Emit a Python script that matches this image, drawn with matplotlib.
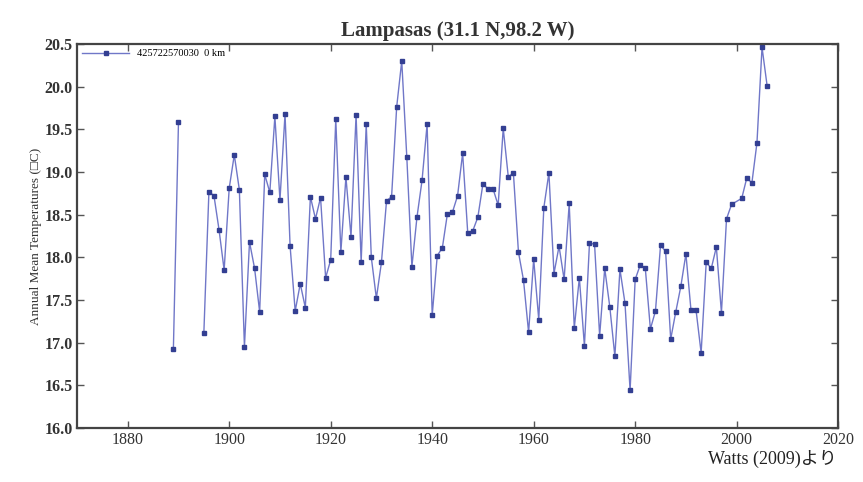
import matplotlib
matplotlib.use('Agg')
import matplotlib.pyplot as plt

# station record, Lampasas TX (GISS 425722570030)
years_early = [1889, 1890]
temps_early = [16.93, 19.58]

years_main = list(range(1895, 2000)) + [2001, 2002, 2003, 2004, 2005, 2006]
temps_main = [
    17.11, 18.77, 18.72, 18.32, 17.85,                                # 1895-1899
    18.81, 19.20, 18.79, 16.95, 18.18, 17.87, 17.36, 18.97, 18.76, 19.65,  # 1900s
    18.67, 19.68, 18.13, 17.37, 17.69, 17.41, 18.71, 18.45, 18.70, 17.76,  # 1910s
    17.97, 19.62, 18.06, 18.94, 18.24, 19.67, 17.94, 19.56, 18.00, 17.52,  # 1920s
    17.94, 18.66, 18.71, 19.76, 20.30, 19.17, 17.89, 18.47, 18.90, 19.56,  # 1930s
    17.32, 18.02, 18.11, 18.51, 18.53, 18.72, 19.22, 18.29, 18.31, 18.47,  # 1940s
    18.86, 18.80, 18.80, 18.61, 19.51, 18.94, 18.99, 18.06, 17.73, 17.12,  # 1950s
    17.98, 17.27, 18.58, 18.99, 17.81, 18.13, 17.74, 18.63, 17.17, 17.76,  # 1960s
    16.96, 18.17, 18.15, 17.08, 17.87, 17.42, 16.84, 17.86, 17.46, 16.44,  # 1970s
    17.74, 17.91, 17.87, 17.16, 17.37, 18.14, 18.07, 17.04, 17.36, 17.66,  # 1980s
    18.04, 17.38, 17.38, 16.88, 17.94, 17.87, 18.12, 17.35, 18.45, 18.62,  # 1990s
    18.69, 18.93, 18.87, 19.34, 20.46, 20.01,                          # 2001-2006
]

station_label = '425722570030  0 km'
serif = ['Liberation Serif', 'DejaVu Serif']

fig = plt.figure(figsize=(8.63, 4.82), dpi=100)
ax = fig.add_axes([0.0892, 0.112, 0.882, 0.797])

line_kw = dict(color='#7077c8', linewidth=1.0, marker='s', markersize=3.5,
               markerfacecolor='#333f92', markeredgecolor='#333f92')
ax.plot(years_early, temps_early, label=station_label, **line_kw)
ax.plot(years_main, temps_main, **line_kw)

ax.set_xlim(1870, 2020)
ax.set_ylim(16.0, 20.5)
ax.set_xticks(range(1880, 2021, 20))
ax.set_yticks([16.0 + 0.5 * i for i in range(10)])
ax.set_yticklabels([f'{16.0 + 0.5 * i:.1f}' for i in range(10)])

ax.tick_params(direction='in', top=True, right=True, length=5, width=1,
               color='#555555', labelsize=11.5, pad=3)
for lbl in ax.get_xticklabels():
    lbl.set_family(serif)
    lbl.set_color('#333333')
for lbl in ax.get_yticklabels():
    lbl.set_family(serif)
    lbl.set_fontweight('bold')
    lbl.set_color('#333333')
for sp in ax.spines.values():
    sp.set_linewidth(1.6)
    sp.set_color('#444444')

ax.set_ylabel('Annual Mean Temperatures (\u25a1C)', family=serif, fontsize=9.5,
              color='#333333', labelpad=2)
ax.set_title('Lampasas (31.1 N,98.2 W)', family=serif, fontsize=15,
             fontweight='bold', color='#333333', pad=6)

leg = ax.legend(loc='upper left', frameon=False,
                prop={'family': serif, 'size': 7.5}, handlelength=4.5,
                borderaxespad=0.1, handletextpad=0.8)

fig.text(0.97, 0.03, 'Watts (2009)より', ha='right', va='bottom', fontsize=13,
         family=['Liberation Serif', 'Noto Sans CJK JP'], color='#222222')

plt.savefig('out.png', dpi=100)
plt.close()
